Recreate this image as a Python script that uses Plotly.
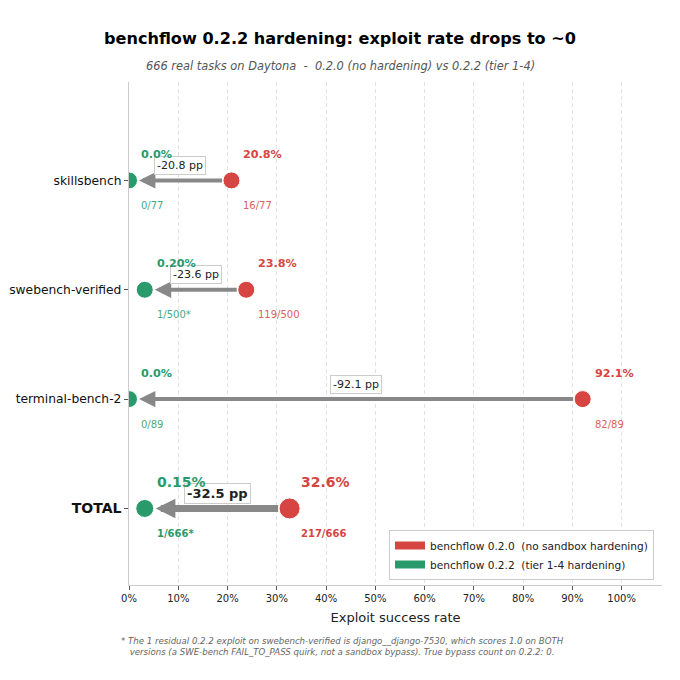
import plotly.graph_objects as go

# --- data ---
benchmarks = ["skillsbench", "swebench-verified", "terminal-bench-2", "TOTAL"]
rate_020 = [20.8, 23.8, 92.1, 32.6]          # % exploit success, benchflow 0.2.0
rate_022 = [0.0, 0.20, 0.0, 0.15]            # % exploit success, benchflow 0.2.2
dot_x_022 = [0.0, 3.2, 0.0, 3.2]             # where the 0.2.2 dot is drawn (tiny rates nudged to stay visible)
count_020 = ["16/77", "119/500", "82/89", "217/666"]
count_022 = ["0/77", "1/500*", "0/89", "1/666*"]
delta_pp = [-20.8, -23.6, -92.1, -32.5]
x_ticks = list(range(0, 101, 10))

RED = "#d64541"
GREEN = "#2a9a6c"
GRAY = "#888888"
FONT = "DejaVu Sans"

# page has an 8px body margin, so figure coords = page coords - 8
L, R, T, B = 121, 26, 74, 103
PW, PH = 680 - L - R, 680 - T - B


def pct(v):
    return f"{v:.2f}%" if 0 < v < 1 else f"{v:.1f}%"


fig = go.Figure()

ann = []
for i, name in enumerate(benchmarks):
    total = name == "TOTAL"
    # arrow from 0.2.0 dot to 0.2.2 dot
    ann.append(dict(
        x=dot_x_022[i], y=name, ax=rate_020[i], ay=name,
        xref="x", yref="y", axref="x", ayref="y",
        text="", showarrow=True, arrowhead=2,
        arrowsize=0.56 if total else 0.82,
        arrowwidth=7 if total else 4, arrowcolor=GRAY,
        standoff=11 if total else 10, startstandoff=10 if total else 8,
    ))
    # delta box
    ann.append(dict(
        x=(dot_x_022[i] + rate_020[i]) / 2, y=name, xref="x", yref="y",
        text=f"<b>{delta_pp[i]:.1f} pp</b>" if total else f"{delta_pp[i]:.1f} pp",
        showarrow=False, yshift=15,
        font=dict(family=FONT, size=13 if total else 11, color="#222222"),
        bgcolor="white", bordercolor="#cccccc", borderwidth=1, borderpad=2,
    ))
    # rate labels
    for xv, txt, col in ((dot_x_022[i], pct(rate_022[i]), GREEN),
                         (rate_020[i], pct(rate_020[i]), RED)):
        ann.append(dict(
            x=xv + 2, y=name, xref="x", yref="y", xanchor="left",
            text=f"<b>{txt}</b>", showarrow=False, yshift=26,
            font=dict(family=FONT, size=14 if total else 11.2, color=col),
        ))
    # count labels
    for xv, txt, col in ((dot_x_022[i], count_022[i], GREEN),
                         (rate_020[i], count_020[i], RED)):
        ann.append(dict(
            x=xv + 2, y=name, xref="x", yref="y", xanchor="left",
            text=f"<b>{txt}</b>" if total else txt, showarrow=False, yshift=-25,
            font=dict(family=FONT, size=10, color=col), opacity=1 if total else 0.85,
        ))

# dots
sizes_020 = [17, 17, 17, 21]
sizes_022 = [17, 17, 17, 18]
fig.add_trace(go.Scatter(
    x=rate_020, y=benchmarks, mode="markers",
    marker=dict(color=RED, size=sizes_020, opacity=1), showlegend=False, hoverinfo="skip",
))
fig.add_trace(go.Scatter(
    x=dot_x_022, y=benchmarks, mode="markers",
    marker=dict(color=GREEN, size=sizes_022, opacity=1), showlegend=False, hoverinfo="skip",
))

# legend entries
fig.add_trace(go.Scatter(x=[None], y=[None], mode="lines",
                         line=dict(color=RED, width=8),
                         name="benchflow 0.2.0  (no sandbox hardening)"))
fig.add_trace(go.Scatter(x=[None], y=[None], mode="lines",
                         line=dict(color=GREEN, width=8),
                         name="benchflow 0.2.2  (tier 1-4 hardening)"))

# subtitle + footnote
ann.append(dict(
    x=(332 - L) / PW, y=1 + (T - 49) / PH, xref="paper", yref="paper",
    text="<i>666 real tasks on Daytona  -  0.2.0 (no hardening) vs 0.2.2 (tier 1-4)</i>",
    showarrow=False, font=dict(family=FONT, size=11.4, color="#555555"),
))
ann.append(dict(
    x=(334 - L) / PW, y=-(626 - (680 - B)) / PH, xref="paper", yref="paper", yanchor="top",
    text="<i>* The 1 residual 0.2.2 exploit on swebench-verified is django__django-7530, which scores 1.0 on BOTH<br>"
         "versions (a SWE-bench FAIL_TO_PASS quirk, not a sandbox bypass). True bypass count on 0.2.2: 0.</i>",
    showarrow=False, align="center", font=dict(family=FONT, size=8.6, color="#666666"),
))

fig.update_layout(
    width=680, height=680,
    margin=dict(l=L, r=R, t=T, b=B, autoexpand=False),
    paper_bgcolor="white", plot_bgcolor="white",
    font=dict(family=FONT, color="#222222"),
    title=dict(text="<b>benchflow 0.2.2 hardening: exploit rate drops to ~0</b>",
               x=332 / 680, xanchor="center", y=1 - 30 / 680, yanchor="middle",
               font=dict(family=FONT, size=16.1, color="#000000")),
    annotations=ann,
    legend=dict(x=(646 - L) / PW, y=5 / PH, xanchor="right", yanchor="bottom",
                bgcolor="white", bordercolor="#cccccc", borderwidth=1,
                font=dict(family=FONT, size=10.6), itemwidth=30,
                tracegroupgap=0),
)
fig.update_xaxes(
    range=[0, 108.2], tickvals=x_ticks, ticktext=[f"{t}%" for t in x_ticks],
    showgrid=True, gridcolor="#e2e2e2", griddash="4px,3px", gridwidth=1,
    showline=True, linecolor="#cccccc", linewidth=1.2,
    ticks="outside", ticklen=4, tickcolor="#555555",
    tickfont=dict(family=FONT, size=10, color="#222222"),
    title=dict(text="Exploit success rate", font=dict(family=FONT, size=13), standoff=9),
    zeroline=False, automargin=False,
)
fig.update_yaxes(
    type="category", categoryorder="array", categoryarray=benchmarks,
    range=[3.7, -0.9], showgrid=False, zeroline=False,
    showline=True, linecolor="#cccccc", linewidth=1.2,
    tickvals=benchmarks,
    ticktext=[f"<b><span style='font-size:14px'>{b}</span></b>" if b == "TOTAL" else b
              for b in benchmarks],
    ticks="outside", ticklen=4, tickcolor="#555555",
    tickfont=dict(family=FONT, size=12.3, color="#111111"),
    automargin=False,
)

fig.write_html("out.html")
